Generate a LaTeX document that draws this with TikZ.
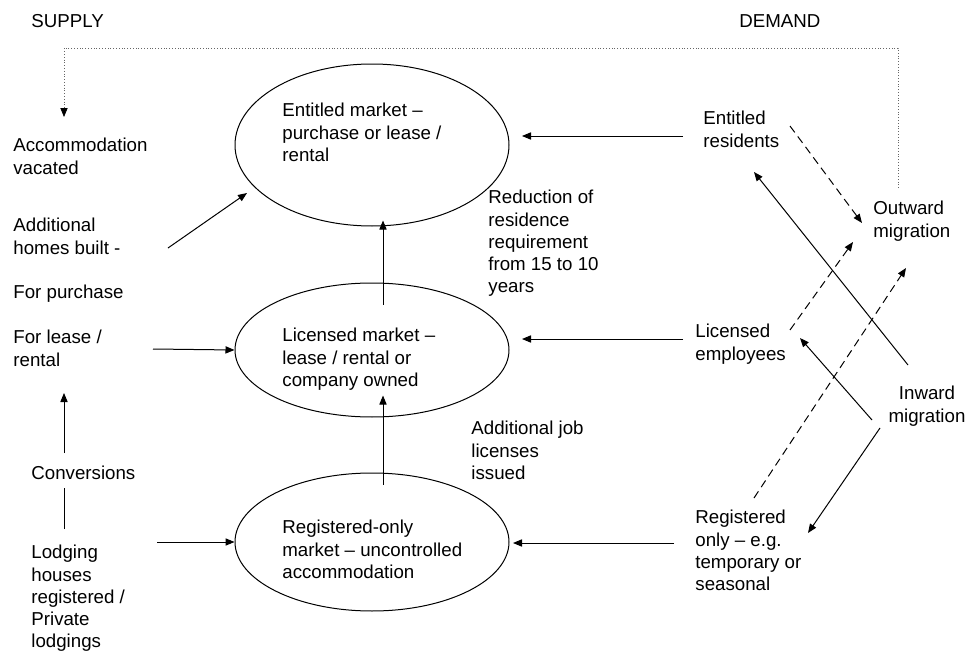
\documentclass[tikz,border=0pt]{standalone}
\usepackage{fontspec}
\setmainfont{Liberation Sans}
\usetikzlibrary{calc, shapes, positioning, arrows.meta}

\tikzset{
	market/.style={ellipse, draw, inner sep=0pt, line width=0.5pt},
	txt/.style={anchor=north west, inner sep=0pt, align=left},
	arr/.style={-{Triangle[length=4.5pt,width=3.6pt]}, line width=0.5pt},
	dasharr/.style={arr, dash pattern=on 4pt off 2.5pt},
	feedback/.style={-{Triangle[length=4.5pt,width=3.6pt,color=black]}, densely dotted, line width=0.4pt, draw=black!60}
}

\begin{document}
\begin{tikzpicture}[x=0.5pt, y=-0.5pt, font=\fontsize{9.35}{11.1}\selectfont]
			\useasboundingbox (0,0) rectangle (966,653);
			\coordinate (cent) at (372,145);
			\coordinate (clic) at (372,350);
			\coordinate (creg) at (372,542);
			
			% markets
			\node[market, minimum width=137pt, minimum height=81pt] (entitled) at (cent) {};
			\node[market, minimum width=137pt, minimum height=67pt] (licensed) at (clic) {};
			\node[market, minimum width=137pt, minimum height=69pt] (registered) at (creg) {};
			\node[txt] (entitledtxt) at (282,103) {Entitled market --\\purchase or lease /\\rental};
			\node[txt] (licensedtxt) at (282,328) {Licensed market --\\lease / rental or\\company owned};
			\node[txt] (registeredtxt) at (282,520) {Registered-only\\market -- uncontrolled\\accommodation};
			
			% supply side
			\node[txt] (supply) at (31,14) {SUPPLY};
			\node[txt] (vacated) at (13,138) {Accommodation\\vacated};
			\node[txt] (homes) at (13,218) {Additional\\homes built -};
			\node[txt] (purchase) at (13,285) {For purchase};
			\node[txt] (lease) at (13,330) {For lease /\\rental};
			\node[txt] (conv) at (31,466) {Conversions};
			\node[txt] (lodging) at (31,545) {Lodging\\houses\\registered /\\Private\\lodgings};
			
			% changes
			\node[txt] (reduction) at (488,190) {Reduction of\\residence\\requirement\\from 15 to 10\\years};
			\node[txt] (jobs) at (471,421) {Additional job\\licenses\\issued};
			
			% demand side
			\node[txt] (demand) at (739,14) {DEMAND};
			\node[txt] (residents) at (703,111) {Entitled\\residents};
			\node[txt] (employees) at (695,324) {Licensed\\employees};
			\node[txt] (regonly) at (695,510) {Registered\\only -- e.g.\\temporary or\\seasonal};
			\node[txt] (outward) at (873,201) {Outward\\migration};
			\node[anchor=north, inner sep=0pt, align=center] (inward) at (927,386) {Inward\\migration};
			
			% arrow ends
			\coordinate (fbstart) at (898,188);
			\coordinate (fbcorner) at (64,48);
			\coordinate (fbend) at (64,117);
			\coordinate (homesout) at (168,248);
			\coordinate (homesin) at (247,193);
			\coordinate (leaseout) at (153,349);
			\coordinate (convout) at (64,453);
			\coordinate (convin) at (64,393);
			\coordinate (lodgeout) at (64,529);
			\coordinate (lodgein) at (64,488);
			\coordinate (lodgingout) at (157,542);
			\coordinate (resout) at (683,136);
			\coordinate (resin) at (522,136);
			\coordinate (empout) at (683,339);
			\coordinate (empin) at (522,339);
			\coordinate (regout) at (674,543);
			\coordinate (regin) at (513,543);
			\coordinate (resleave) at (790,126);
			\coordinate (outA) at (862,223);
			\coordinate (empleave) at (790,330);
			\coordinate (outB) at (853,242);
			\coordinate (regleave) at (754,498);
			\coordinate (outC) at (906,268);
			\coordinate (inA) at (908,365);
			\coordinate (resarrive) at (754,172);
			\coordinate (inB) at (872,420);
			\coordinate (emparrive) at (800,338);
			\coordinate (inC) at (880,428);
			\coordinate (regarrive) at (808,533);
			
			\draw[feedback] (fbstart) |- (fbcorner) -- (fbend);
			\draw[arr] (homesout) -- (homesin);
			\draw[arr] (leaseout) -- (licensed.west);
			\draw[arr] (convout) -- (convin);
			\draw[line width=0.5pt] (lodgeout) -- (lodgein);
			\draw[arr] (lodgingout) -- (registered.west);
			\draw[arr] ([yshift=-11pt]licensed.north -| 383,0) -- ([yshift=3pt]entitled.south -| 383,0);
			\draw[arr] ([yshift=-6pt]registered.north -| 383,0) -- ([yshift=11pt]licensed.south -| 383,0);
			\draw[arr] (resout) -- (resin);
			\draw[arr] (empout) -- (empin);
			\draw[arr] (regout) -- (regin);
			\draw[dasharr] (resleave) -- (outA);
			\draw[dasharr] (empleave) -- (outB);
			\draw[dasharr] (regleave) -- (outC);
			\draw[arr] (inA) -- (resarrive);
			\draw[arr] (inB) -- (emparrive);
			\draw[arr] (inC) -- (regarrive);
			\end{tikzpicture}
\end{document}
